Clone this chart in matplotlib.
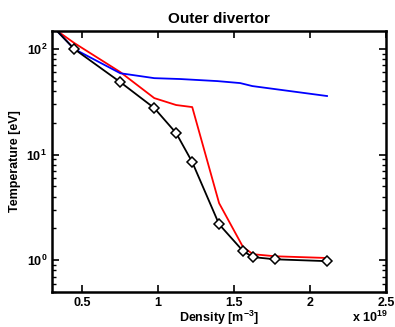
#!/usr/bin/env python3
"""
Outer divertor temperature vs density (log scale).
"""
import matplotlib
matplotlib.use("Agg")
import matplotlib.pyplot as plt
from matplotlib.ticker import FixedLocator, FixedFormatter, LogLocator, NullFormatter

plt.rcParams['font.family'] = ['Liberation Sans', 'DejaVu Sans']
plt.rcParams['font.weight'] = 'bold'
plt.rcParams['mathtext.fontset'] = 'custom'
plt.rcParams['mathtext.rm'] = 'Liberation Sans:bold'
plt.rcParams['mathtext.bf'] = 'Liberation Sans:bold'
plt.rcParams['mathtext.default'] = 'bf'

# density in units of 1e19 m^-3
dens_black = [0.33, 0.447, 0.75, 0.974, 1.118, 1.224, 1.401, 1.559, 1.625, 1.77, 2.112]
temp_black = [150, 100, 48.6, 27.6, 16.0, 8.5, 2.19, 1.22, 1.07, 1.02, 0.98]

dens_red = [0.33, 0.447, 0.75, 0.974, 1.118, 1.224, 1.401, 1.559, 1.625, 1.77, 2.112]
temp_red = [150, 114, 60.5, 34.3, 29.5, 28.2, 3.47, 1.33, 1.14, 1.09, 1.05]

dens_blue = [0.33, 0.447, 0.75, 0.974, 1.145, 1.39, 1.54, 1.62, 2.112]
temp_blue = [150, 100, 59, 53, 52, 49.7, 47.6, 44.6, 35.9]

x_ticks = [0.5, 1, 1.5, 2, 2.5]
x_labels = ['0.5', '1', '1.5', '2', '2.5']

fig = plt.figure(figsize=(3.95, 3.27), dpi=100)
ax = fig.add_axes([0.1316, 0.107, 0.8454, 0.798])

ax.plot(dens_red, temp_red, color='red', lw=1.3)
ax.plot(dens_blue, temp_blue, color='blue', lw=1.3)
ax.plot(dens_black, temp_black, color='black', lw=1.3, marker='D',
        markevery=list(range(1, len(dens_black))), markersize=5.2,
        markerfacecolor='white', markeredgecolor='black', markeredgewidth=1.1)

ax.set_yscale('log')
ax.set_xlim(0.3, 2.5)
ax.set_ylim(0.5, 148)

ax.xaxis.set_major_locator(FixedLocator(x_ticks))
ax.xaxis.set_major_formatter(FixedFormatter(x_labels))
ax.yaxis.set_major_locator(LogLocator(base=10))
ax.yaxis.set_minor_locator(LogLocator(base=10, subs=range(2, 10)))
ax.yaxis.set_minor_formatter(NullFormatter())

ax.tick_params(which='both', direction='in', top=True, right=True, labelsize=9)
ax.tick_params(which='major', length=5, width=1.2)
ax.tick_params(which='minor', length=3, width=1.0)
for spine in ax.spines.values():
    spine.set_linewidth(1.8)

ax.set_title('Outer divertor', fontsize=11, fontweight='bold', pad=6)
ax.set_xlabel(r'Density [m$^{-3}$]', fontsize=9, fontweight='bold', labelpad=0)
ax.set_ylabel('Temperature [eV]', fontsize=9, fontweight='bold', labelpad=4)

fig.text(0.89, 0.015, r'x 10$^{19}$', fontsize=9, fontweight='bold')

fig.savefig('out.png', dpi=100)
